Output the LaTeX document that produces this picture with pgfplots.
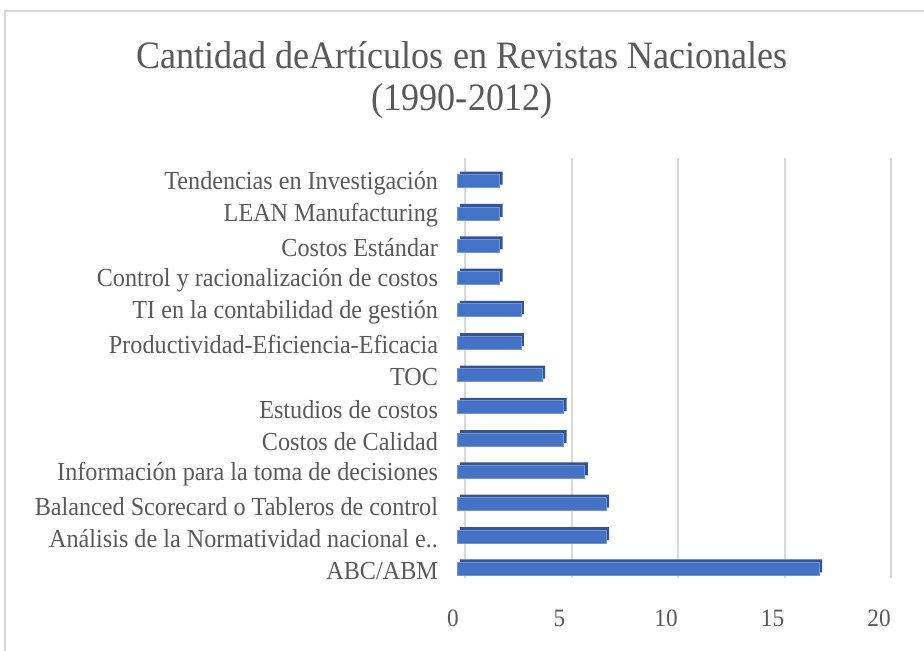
\documentclass[border=0pt]{standalone}
\usepackage{fontspec}
\setmainfont{Liberation Serif}[FakeStretch=0.93]
\usepackage{pgfplots}
\pgfplotsset{compat=1.18}
\definecolor{txt}{HTML}{595959}
\definecolor{barfront}{HTML}{4472C4}
\definecolor{bartop}{HTML}{2F5597}
\definecolor{gridc}{HTML}{D9D9D9}
\begin{document}
\begin{tikzpicture}
\useasboundingbox (0,0) rectangle (462pt,325pt);
\draw[gridc, line width=0.8pt] (2.5pt,-5pt) -- (2.5pt,319.5pt) -- (470pt,319.5pt);
\node[align=center, text=txt, font=\fontsize{19.4}{20.8}\selectfont] at (231pt,285pt) {Cantidad deArtículos en Revistas Nacionales\\(1990-2012)};
\begin{axis}[
 at={(228.5pt,32.5pt)}, anchor=south west,
 scale only axis, width=213pt, height=210pt,
 xmin=0, xmax=20, ymin=-0.5, ymax=12.5,
 xtick={0,5,10,15,20},
 ytick={0,...,12},
 yticklabels={ABC/ABM, Análisis de la Normatividad nacional e.., Balanced Scorecard o Tableros de control, Información para la toma de decisiones, Costos de Calidad, Estudios de costos, TOC, Productividad-Eficiencia-Eficacia, TI en la contabilidad de gestión, Control y racionalización de costos, Costos Estándar, LEAN Manufacturing, Tendencias en Investigación},
 axis line style={draw=none},
 major tick length=0pt,
 xmajorgrids, major grid style={gridc, line width=1pt, xshift=4pt, yshift=3.5pt},
 tick label style={text=txt},
 yticklabel style={font=\fontsize{13}{14}\selectfont, xshift=-6pt, yshift=-1pt},
 xticklabel style={font=\fontsize{12.5}{14}\selectfont, yshift=-9pt, xshift=-2pt},
 /pgf/number format/assume math mode=true,
 clip=false,
]
\addplot[xbar, bar width=6.5pt, fill=bartop, draw=none, bar shift=1.5pt, xshift=1.5pt] coordinates {
 (17,0) (7,1) (7,2) (6,3) (5,4) (5,5) (4,6) (3,7) (3,8) (2,9) (2,10) (2,11) (2,12)};
\addplot[xbar, bar width=6.5pt, fill=barfront, draw=barfront!75!white, line width=0.4pt, bar shift=0pt] coordinates {
 (17,0) (7,1) (7,2) (6,3) (5,4) (5,5) (4,6) (3,7) (3,8) (2,9) (2,10) (2,11) (2,12)};
\end{axis}
\end{tikzpicture}
\end{document}
